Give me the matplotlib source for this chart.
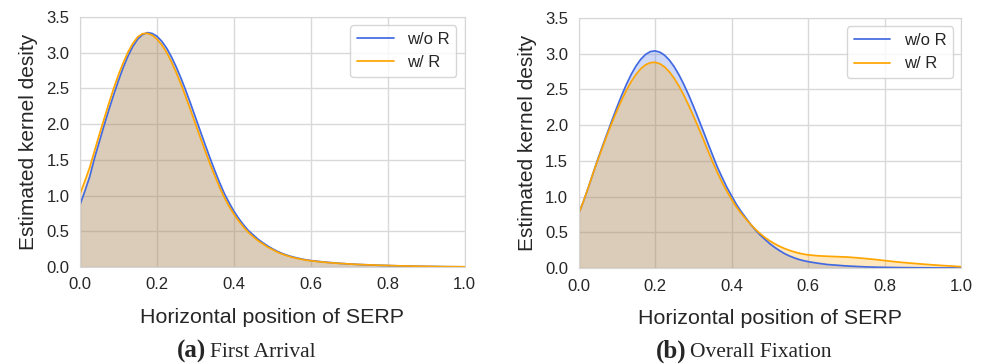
import numpy as np
import matplotlib
matplotlib.use("Agg")
import matplotlib.pyplot as plt
import seaborn as sns

# x positions where the densities were read: fine step up to 0.6, coarser in the tail
xs = np.r_[np.arange(49) * 0.0125, 0.6 + np.arange(1, 17) * 0.025]

# (a) First Arrival
first_wo = [0.87, 1.06, 1.26, 1.52, 1.75, 1.98, 2.20, 2.41, 2.61, 2.795,
            2.956, 3.089, 3.189, 3.253, 3.28, 3.269, 3.229, 3.16, 3.064, 2.943,
            2.801, 2.642, 2.469, 2.286, 2.097, 1.905, 1.716, 1.531, 1.353, 1.185,
            1.03, 0.90, 0.78, 0.68, 0.59, 0.51, 0.45, 0.39, 0.34, 0.295,
            0.255, 0.22, 0.19, 0.165, 0.145, 0.128, 0.113, 0.10, 0.09,
            0.075, 0.062, 0.051, 0.042, 0.035, 0.029, 0.024, 0.02,
            0.016, 0.013, 0.01, 0.008, 0.006, 0.004, 0.003, 0.002]
first_w = [1.02, 1.20, 1.39, 1.62, 1.85, 2.07, 2.29, 2.50, 2.69, 2.86,
           3.01, 3.13, 3.22, 3.265, 3.27, 3.245, 3.19, 3.11, 3.005, 2.875,
           2.725, 2.56, 2.38, 2.195, 2.005, 1.815, 1.63, 1.45, 1.28, 1.12,
           0.975, 0.85, 0.74, 0.645, 0.56, 0.485, 0.425, 0.37, 0.325, 0.28,
           0.245, 0.21, 0.182, 0.158, 0.138, 0.122, 0.108, 0.096, 0.087,
           0.072, 0.06, 0.05, 0.042, 0.035, 0.03, 0.025, 0.021,
           0.017, 0.014, 0.011, 0.009, 0.007, 0.005, 0.004, 0.003]

# (b) Overall Fixation
overall_wo = [0.76, 0.93, 1.12, 1.32, 1.52, 1.707, 1.889, 2.071, 2.248, 2.416,
              2.571, 2.71, 2.828, 2.922, 2.99, 3.03, 3.04, 3.022, 2.978, 2.909,
              2.817, 2.703, 2.571, 2.424, 2.266, 2.099, 1.928, 1.754, 1.583, 1.415,
              1.27, 1.13, 1.01, 0.89, 0.79, 0.70, 0.61, 0.53, 0.46, 0.40,
              0.34, 0.29, 0.245, 0.205, 0.172, 0.145, 0.122, 0.104, 0.09,
              0.068, 0.05, 0.04, 0.03, 0.023, 0.017, 0.013, 0.01,
              0.008, 0.006, 0.005, 0.004, 0.003, 0.002, 0.002, 0.001]
overall_w = [0.76, 0.93, 1.12, 1.32, 1.51, 1.69, 1.87, 2.04, 2.20, 2.35,
             2.49, 2.61, 2.71, 2.79, 2.845, 2.875, 2.88, 2.86, 2.815, 2.745,
             2.655, 2.545, 2.42, 2.28, 2.13, 1.975, 1.815, 1.65, 1.49, 1.34,
             1.20, 1.075, 0.96, 0.855, 0.765, 0.685, 0.61, 0.54, 0.48, 0.425,
             0.38, 0.34, 0.305, 0.275, 0.25, 0.228, 0.21, 0.196, 0.185,
             0.172, 0.165, 0.16, 0.155, 0.145, 0.133, 0.12, 0.105,
             0.09, 0.077, 0.066, 0.055, 0.045, 0.036, 0.028, 0.02]

labels = ["w/o R", "w/ R"]
colors = ["royalblue", "orange"]
captions = [("(a)", "First Arrival"), ("(b)", "Overall Fixation")]

sns.set_style("whitegrid")
plt.rcParams["font.family"] = ["Liberation Sans", "DejaVu Sans"]

W, H = 989, 364
fig = plt.figure(figsize=(W / 100, H / 100), dpi=100)
ax1 = fig.add_axes([0.0809, 0.2665, 0.389, 0.687])
ax2 = fig.add_axes([0.585, 0.2635, 0.387, 0.687])

panels = [(ax1, first_wo, first_w), (ax2, overall_wo, overall_w)]

for ax, ywo, yw in panels:
    for ys, lab, c in zip([ywo, yw], labels, colors):
        ax.fill_between(xs, ys, 0, color=c, alpha=0.25, lw=0)
        ax.plot(xs, ys, color=c, lw=1.25, label=lab)
    ax.set_xlim(0, 1)
    ax.set_ylim(0, 3.5)
    ax.set_xticks(np.arange(0, 1.01, 0.2))
    ax.set_yticks(np.arange(0, 3.51, 0.5))
    ax.tick_params(labelsize=12, pad=4)
    ax.set_xlabel("Horizontal position of SERP", fontsize=15.4, labelpad=11)
    ax.set_ylabel("Estimated kernel desity", fontsize=15, labelpad=6)
    ax.grid(color="#d9d9d9", lw=1)
    for s in ax.spines.values():
        s.set_color("#d6d6d6")
    ax.legend(loc="upper right", fontsize=12, handlelength=2.2)

# sub-figure captions: bold tag + serif name, centred a bit left of the axes centre
serif = ["Liberation Serif", "DejaVu Serif"]
cap_texts = []
for ax, (tag, name) in zip([ax1, ax2], captions):
    t1 = fig.text(0, 0.018, tag, fontsize=18, fontweight="bold",
                  family=serif, ha="left", va="baseline")
    t2 = fig.text(0, 0.018, name, fontsize=15.5, family=serif,
                  ha="left", va="baseline")
    cap_texts.append((ax, t1, t2))

fig.canvas.draw()
r = fig.canvas.get_renderer()
gap = 4
for ax, t1, t2 in cap_texts:
    w1 = t1.get_window_extent(r).width
    w2 = t2.get_window_extent(r).width
    b = ax.get_position()
    cx = (b.x0 + b.width / 2) * W - 26
    x0 = cx - (w1 + gap + w2) / 2
    t1.set_x(x0 / W)
    t2.set_x((x0 + w1 + gap) / W)

fig.savefig("out.png", dpi=100)
